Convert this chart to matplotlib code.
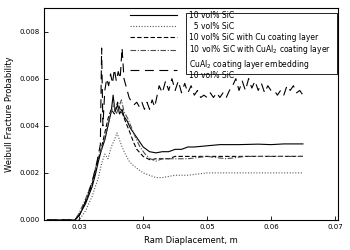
import numpy as np
import matplotlib
matplotlib.use("Agg")
import matplotlib.pyplot as plt
from matplotlib.patches import Rectangle

# ---- data ----
labels = ["10 vol% SiC",
          "  5 vol% SiC",
          "10 vol% SiC with Cu coating layer",
          "10 vol% SiC with CuAl$_2$ coating layer",
          "CuAl$_2$ coating layer embedding\n10 vol% SiC"]

x_sic10 = [0.0250, 0.0293, 0.0300, 0.0310, 0.0320, 0.0325, 0.0330, 0.0335, 0.0340,
           0.0345, 0.0350, 0.0353, 0.0356, 0.0360, 0.0363, 0.0367, 0.0370, 0.0375,
           0.0380, 0.0385, 0.0390, 0.0395, 0.0400, 0.0410, 0.0420, 0.0430, 0.0440,
           0.0450, 0.0460, 0.0470, 0.0480, 0.0500, 0.0520, 0.0550, 0.0580, 0.0600,
           0.0620, 0.0650]
y_sic10 = [0, 0, 0.0002, 0.0007, 0.0014, 0.0019, 0.0025, 0.0030, 0.0034,
           0.0040, 0.0046, 0.0053, 0.0046, 0.0049, 0.0045, 0.0047, 0.0044, 0.0042,
           0.0039, 0.0037, 0.0035, 0.0033, 0.0031, 0.0029, 0.00285, 0.0029, 0.0029,
           0.0030, 0.0030, 0.0031, 0.0031, 0.00315, 0.0032, 0.0032, 0.00322, 0.0032,
           0.00323, 0.00323]

x_sic5 = [0.0250, 0.0300, 0.0310, 0.0320, 0.0330, 0.0335, 0.0340, 0.0345, 0.0350,
          0.0355, 0.0359, 0.0363, 0.0367, 0.0372, 0.0378, 0.0385, 0.0390, 0.0400,
          0.0410, 0.0420, 0.0430, 0.0440, 0.0450, 0.0470, 0.0500, 0.0550, 0.0600,
          0.0650]
y_sic5 = [0, 0, 0.0004, 0.0010, 0.0018, 0.0024, 0.0028, 0.0026, 0.0031,
          0.0034, 0.0037, 0.0034, 0.0031, 0.0028, 0.0025, 0.0023, 0.0022, 0.0020,
          0.0019, 0.0018, 0.0018, 0.00185, 0.0019, 0.0019, 0.0020, 0.0020, 0.0020,
          0.0020]

x_cu = [0.0250, 0.0293, 0.0300, 0.0310, 0.0320, 0.0330, 0.0335, 0.0340, 0.0345,
        0.0350, 0.0355, 0.0360, 0.0364, 0.0368, 0.0372, 0.0378, 0.0385, 0.0390,
        0.0400, 0.0411, 0.0420, 0.0430, 0.0440, 0.0450, 0.0470, 0.0500, 0.0530,
        0.0560, 0.0600, 0.0630, 0.0650]
y_cu = [0, 0, 0.0002, 0.0008, 0.0015, 0.0026, 0.0031, 0.0037, 0.0043,
        0.0047, 0.0045, 0.0050, 0.0047, 0.0045, 0.0042, 0.0038, 0.0033, 0.0030,
        0.0027, 0.00255, 0.0026, 0.0026, 0.0026, 0.0027, 0.0027, 0.0027, 0.0027,
        0.0027, 0.0027, 0.0027, 0.0027]

x_cual = [0.0250, 0.0293, 0.0300, 0.0310, 0.0320, 0.0330, 0.0335, 0.0340, 0.0345,
          0.0350, 0.0354, 0.0358, 0.0362, 0.0366, 0.0370, 0.0376, 0.0382, 0.0388,
          0.0395, 0.0403, 0.0411, 0.0420, 0.0430, 0.0440, 0.0450, 0.0470, 0.0500,
          0.0530, 0.0560, 0.0600, 0.0630, 0.0650]
y_cual = [0, 0, 0.0003, 0.0009, 0.0016, 0.0027, 0.0030, 0.0035, 0.0041,
          0.0046, 0.0049, 0.0045, 0.0048, 0.0051, 0.0046, 0.0043, 0.0039, 0.0035,
          0.0031, 0.0028, 0.0026, 0.0025, 0.0026, 0.0026, 0.0026, 0.0026, 0.0027,
          0.0026, 0.0027, 0.0027, 0.0027, 0.0027]

x_emb = [0.0250, 0.0293, 0.0300, 0.0310, 0.0320, 0.0328, 0.0333, 0.0335, 0.0337,
         0.0340, 0.0343, 0.0346, 0.0349, 0.0352, 0.0355, 0.0358, 0.0361, 0.0364,
         0.0367, 0.0370, 0.0374, 0.0378, 0.0382, 0.0386, 0.0390, 0.0394, 0.0398,
         0.0402, 0.0406, 0.0410, 0.0414, 0.0418, 0.0422,
         0.0425, 0.0430, 0.0435, 0.0440, 0.0445, 0.0450, 0.0455, 0.0460, 0.0465,
         0.0470, 0.0475, 0.0480, 0.0485, 0.0490, 0.0495, 0.0500, 0.0505, 0.0510,
         0.0515, 0.0520, 0.0525, 0.0530, 0.0535, 0.0540, 0.0545, 0.0550, 0.0555,
         0.0560, 0.0565, 0.0570, 0.0575, 0.0580, 0.0585, 0.0590, 0.0595, 0.0600,
         0.0605, 0.0610, 0.0615, 0.0620, 0.0625, 0.0630, 0.0635, 0.0640, 0.0645,
         0.0650]
y_emb = [0, 0, 0.0002, 0.0008, 0.0016, 0.0025, 0.0032, 0.0073, 0.0040,
         0.0055, 0.0060, 0.0057, 0.0062, 0.0058, 0.0064, 0.0059, 0.0063, 0.0060,
         0.0073, 0.0060, 0.0056, 0.0052, 0.0050, 0.0049, 0.0050, 0.0048, 0.0050,
         0.0047, 0.0050, 0.0047, 0.0051, 0.0048, 0.0053,
         0.0057, 0.0054, 0.0059, 0.0055, 0.0060, 0.0055, 0.0059, 0.0054, 0.0058,
         0.0054, 0.0057, 0.0053, 0.0055, 0.0052, 0.0053, 0.0052, 0.0054, 0.0052,
         0.0054, 0.0052, 0.0054, 0.0052, 0.0055, 0.0057, 0.0060, 0.0055, 0.0059,
         0.0055, 0.0060, 0.0056, 0.0059, 0.0055, 0.0058, 0.0054, 0.0057, 0.0055,
         0.0055, 0.0053, 0.0055, 0.0053, 0.0057, 0.0055, 0.0057, 0.0054, 0.0055,
         0.0053]

x_ticks = [0.03, 0.04, 0.05, 0.06, 0.07]
y_ticks = [0.000, 0.002, 0.004, 0.006, 0.008]

# ---- plot ----
plt.rcParams['font.family'] = 'DejaVu Sans'
fig = plt.figure(figsize=(3.5, 2.5), dpi=100)
ax = fig.add_axes([0.126, 0.12, 0.840, 0.848])

lw = 0.8
ax.plot(x_sic10, y_sic10, color='k', lw=lw, ls='-', label=labels[0])
ax.plot(x_sic5, y_sic5, color='0.35', lw=lw, ls=(0, (1, 1.5)), label=labels[1])
ax.plot(x_cu, y_cu, color='k', lw=lw, ls=(0, (4, 2)), label=labels[2])
ax.plot(x_cual, y_cual, color='0.3', lw=lw, ls=(0, (5, 1.5, 1, 1.5)), label=labels[3])
ax.plot(x_emb, y_emb, color='k', lw=lw, ls=(0, (8, 5)), label=labels[4])

ax.set_xlim(0.0245, 0.0705)
ax.set_ylim(0, 0.009)
ax.set_xticks(x_ticks)
ax.set_xticklabels(["%.2f" % v for v in x_ticks])
ax.set_yticks(y_ticks)
ax.set_yticklabels(["%.3f" % v for v in y_ticks])
ax.tick_params(direction='in', labelsize=5, length=3, width=0.6, pad=3)
for s in ax.spines.values():
    s.set_linewidth(0.8)

ax.set_xlabel("Ram Diaplacement, m", fontsize=6, labelpad=4)
ax.set_ylabel("Weibull Fracture Probability", fontsize=6, labelpad=4)

leg = ax.legend(loc='upper left', bbox_to_anchor=(0.293, 0.987), frameon=False,
                fontsize=5.5, handlelength=6.1, handletextpad=1.55,
                labelspacing=0.25, borderpad=0, borderaxespad=0)
for t in leg.get_texts():
    t.set_linespacing(1.0)
# box only around the text part, as in the source figure
ax.add_patch(Rectangle((0.483, 0.688), 0.514, 0.288, transform=ax.transAxes,
                       fill=False, lw=0.6, ec='k', zorder=5))

fig.savefig("out.png", dpi=100)
